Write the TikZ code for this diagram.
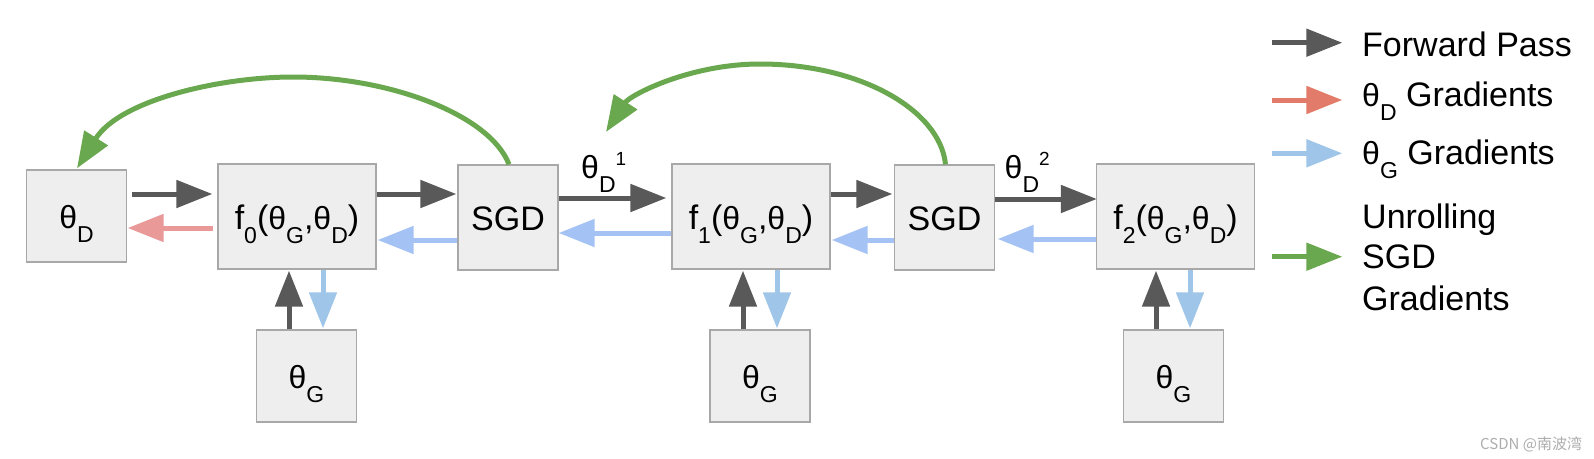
\documentclass[tikz,border=0pt]{standalone}
\usepackage{fontspec}
\setmainfont{Liberation Sans}
\newfontfamily\cjkfont{Noto Sans CJK SC}
\usetikzlibrary{arrows.meta,calc}
\definecolor{dk}{HTML}{595959}
\definecolor{redd}{HTML}{EA9999}
\definecolor{redl}{HTML}{E27B6A}
\definecolor{hblue}{HTML}{A4C2F4}
\definecolor{vblue}{HTML}{9FC5E8}
\definecolor{grn}{HTML}{6AA84F}
\definecolor{boxfill}{HTML}{EEEEEE}
\definecolor{boxline}{HTML}{A8A8A8}
\newcommand\mytheta{{\fontsize{32}{32}\selectfont θ}}
\newcommand\mysub[1]{\raisebox{-14pt}{\fontsize{23}{23}\selectfont #1}}
\newcommand\mysup[1]{\raisebox{13pt}{\fontsize{19}{19}\selectfont #1}}
\begin{document}
\begin{tikzpicture}[x=1pt,y=-1pt,
  box/.style={draw=boxline,fill=boxfill,line width=1.3pt,inner sep=0pt,
    text height=30pt,text depth=5pt,font=\fontsize{34}{40}\selectfont},
  fbox/.style={box,minimum width=158pt,minimum height=105pt},
  sbox/.style={box,minimum width=100pt,minimum height=105pt},
  pbox/.style={box,minimum width=100pt,minimum height=92pt},
  tip/.style={-{Triangle[length=36pt,width=27pt]}},
  fwd/.style={tip,draw=dk,line width=5pt},
  redarr/.style={tip,draw=redd,line width=5pt},
  harr/.style={tip,draw=hblue,line width=5pt},
  varr/.style={tip,draw=vblue,line width=5pt},
  grnarr/.style={tip,draw=grn,line width=5pt},
  txt/.style={inner sep=0pt,anchor=base west,font=\fontsize{34}{40}\selectfont}]
\useasboundingbox (0,0) rectangle (1594,458);
\fill[white] (0,0) rectangle (1594,458);

% boxes
\node[pbox] (tD) at (76.5,216) {\mytheta\mysub{D}};
\node[fbox] (f0) at (297,216.5) {f\mysub{0}(\mytheta\mysub{G},\mytheta\mysub{D})};
\node[sbox] (s1) at (508,217.5) {SGD};
\node[pbox] (g0) at (306.5,376) {\mytheta\mysub{G}};
\node[fbox] (f1) at (751,216.5) {f\mysub{1}(\mytheta\mysub{G},\mytheta\mysub{D})};
\node[sbox] (s2) at (944.5,217.5) {SGD};
\node[pbox] (g1) at (760,376) {\mytheta\mysub{G}};
\node[fbox] (f2) at (1175.5,216.5) {f\mysub{2}(\mytheta\mysub{G},\mytheta\mysub{D})};
\node[pbox] (g2) at (1173.5,376) {\mytheta\mysub{G}};

% edge labels
\node[txt] (l1) at (581,178.3) {\mytheta\mysub{D}\mysup{1}};
\node[txt] (l2) at (1004.5,178.3) {\mytheta\mysub{D}\mysup{2}};

% arrows, first stage
\draw[fwd] ($(tD.east)+(4.5,-22)$) -- ($(f0.west)+(-5,-22.5)$);
\draw[redarr] ($(f0.west)+(-4,11.5)$) -- ($(tD.east)+(0.5,12)$);
\draw[fwd] ($(f0.east)+(0,-22.5)$) -- ($(s1.west)+(-1,-23.5)$);
\draw[harr] ($(s1.west)+(0,22.5)$) -- ($(f0.east)+(1,23.5)$);
\draw[fwd] ($(g0.north)+(-17.5,0)$) -- ($(f0.south)+(-8,1)$);
\draw[varr] ($(f0.south)+(26,0)$) -- ($(g0.north)+(16.5,-1)$);
% second stage
\draw[fwd] ($(s1.east)+(0,-19.5)$) -- ($(f1.west)+(-5,-18.5)$);
\draw[harr] ($(f1.west)+(0,16.5)$) -- ($(s1.east)+(0,15.5)$);
\draw[fwd] ($(f1.east)+(0,-22.5)$) -- ($(s2.west)+(-1.5,-23.5)$);
\draw[harr] ($(s2.west)+(0,22.5)$) -- ($(f1.east)+(1,23.5)$);
\draw[fwd] ($(g1.north)+(-17,0)$) -- ($(f1.south)+(-8,1)$);
\draw[varr] ($(f1.south)+(26,0)$) -- ($(g1.north)+(17,-1)$);
% third stage
\draw[fwd] ($(s2.east)+(0,-18.5)$) -- ($(f2.west)+(1,-17.5)$);
\draw[harr] ($(f2.west)+(0,22.5)$) -- ($(s2.east)+(2.5,21.5)$);
\draw[fwd] ($(g2.north)+(-17.5,0)$) -- ($(f2.south)+(-19.5,1)$);
\draw[varr] ($(f2.south)+(14.5,0)$) -- ($(g2.north)+(16.5,-1)$);

% unrolling SGD gradients
\draw[grnarr] ($(s1.north)+(1,0)$) .. controls (490,115) and (390,77) .. (293,77)
  .. controls (220,77) and (120,100) .. ($(tD.north)+(0.5,-1)$);
\coordinate (g2tip) at (606,132);
\draw[grnarr] ($(s2.north)+(1,0)$) .. controls (940,110) and (860,64) .. (760,64)
  .. controls (690,64) and (630,95) .. (g2tip);

% legend
\coordinate (la1) at (1272,42.7);  \coordinate (lb1) at (1342.3,42.7);
\coordinate (la2) at (1272,100);   \coordinate (lb2) at (1342.3,100);
\coordinate (la3) at (1272,153.3); \coordinate (lb3) at (1342.3,153.3);
\coordinate (la4) at (1272,256.7); \coordinate (lb4) at (1342.3,256.7);
\draw[fwd] (la1) -- (lb1);
\draw[tip,draw=redl,line width=5pt] (la2) -- (lb2);
\draw[varr] (la3) -- (lb3);
\draw[grnarr] (la4) -- (lb4);
\node[txt] (t1) at (1362,56) {Forward Pass};
\node[txt] (t2) at (1362,106) {\mytheta\mysub{D} Gradients};
\node[txt] (t3) at (1362,164.5) {\mytheta\mysub{G} Gradients};
\node[txt] (t4) at (1362,228) {Unrolling};
\node[txt] (t5) at (1362,268.3) {SGD};
\node[txt] (t6) at (1362,310) {Gradients};

% watermark
\node[inner sep=0pt,anchor=base west,text=black!32,font=\cjkfont\fontsize{15}{15}\selectfont] (wm) at (1480,449) {CSDN @南波湾};
\end{tikzpicture}
\end{document}
